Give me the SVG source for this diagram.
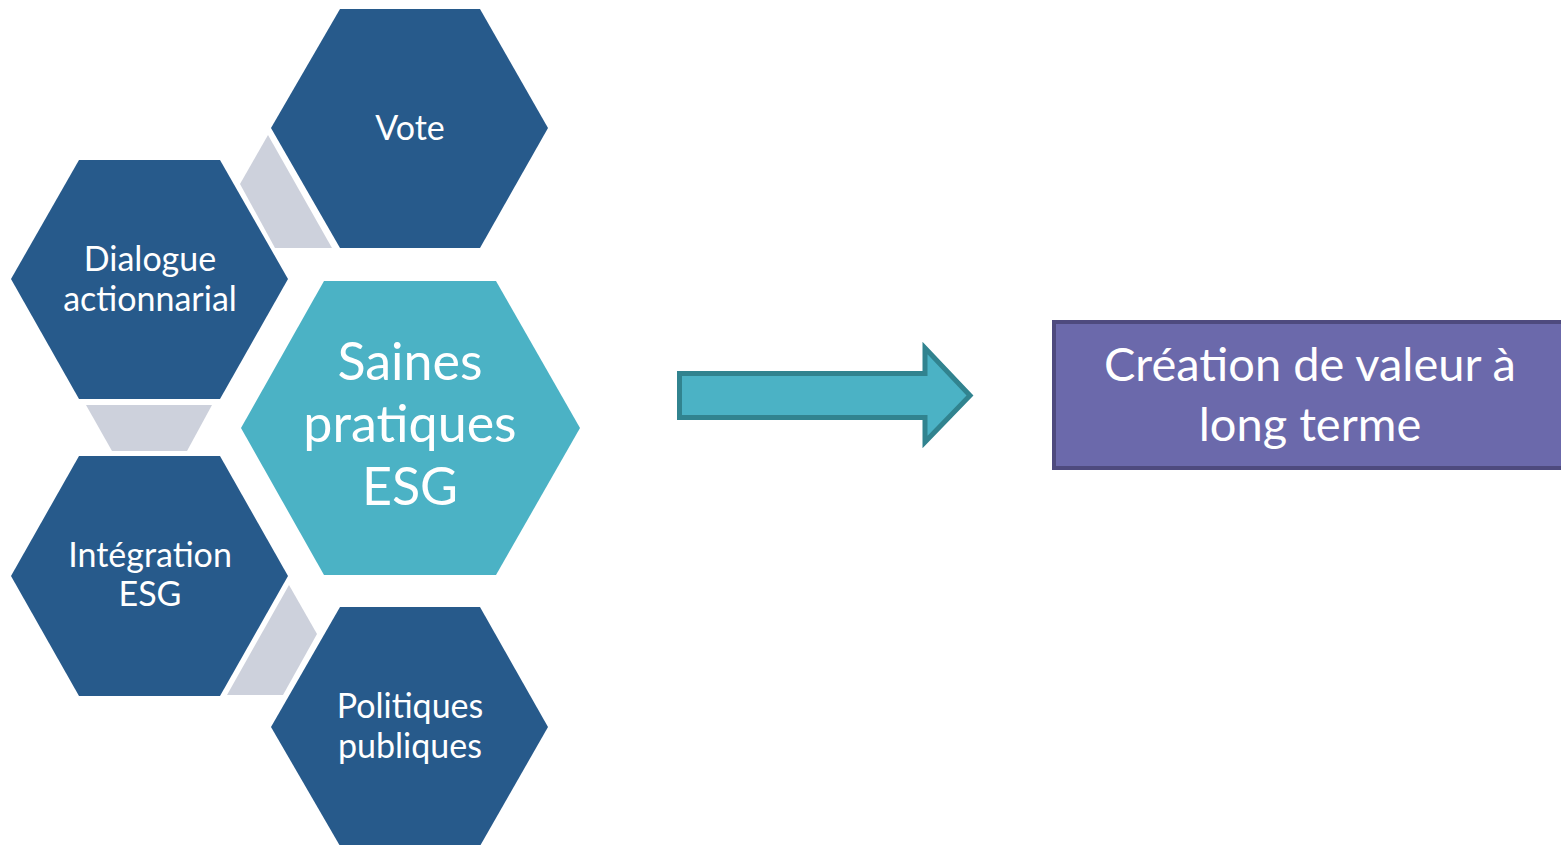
<svg xmlns="http://www.w3.org/2000/svg" width="1561" height="845" viewBox="0 0 1561 845">
<style>
.hex{fill:#275A8B}
.hexc{fill:#4BB2C5}
.con{fill:#CDD1DC}
.t{font-family:Lato,"Open Sans","Liberation Sans",sans-serif;fill:#fff;text-anchor:middle}
.s{font-size:34px}
.l{font-size:52px}
.b{font-size:47px}
</style>
<rect width="1561" height="845" fill="#fff"/>
<g id="connectors">
<polygon class="con" points="268,135 332,248 275,248 240,184"/>
<polygon class="con" points="86,405 212,405 187,451 112,451"/>
<polygon class="con" points="289,585 317,634 283,695 227,695"/>
<path d="M679.5,373.5 H925 V348 L970,395.5 L925,442 V417.5 H679.5 Z" fill="#4BB2C5" stroke="#31838F" stroke-width="5" stroke-linejoin="miter"/>
</g>
<g id="vote">
<polygon class="hex" points="340,9 480,9 548,128 480,248 340,248 271,128"/>
<text class="t s" x="410" y="140">Vote</text>
</g>
<g id="dialogue">
<polygon class="hex" points="79,160 220,160 288,279 220,399 79,399 11,279"/>
<text class="t s" x="150" y="271">Dialogue</text>
<text class="t s" x="150" y="311">actionnarial</text>
</g>
<g id="center">
<polygon class="hexc" points="324,281 496,281 580,428 496,575 324,575 241,428"/>
<text class="t l" x="410" y="380">Saines</text>
<text class="t l" x="410" y="442">pratiques</text>
<text class="t l" x="410" y="505">ESG</text>
</g>
<g id="integration">
<polygon class="hex" points="79,456 220,456 288,576 220,696 79,696 11,576"/>
<text class="t s" x="150" y="567">Intégration</text>
<text class="t s" x="150" y="606">ESG</text>
</g>
<g id="politiques">
<polygon class="hex" points="340,607 480,607 548,727 480,846 340,846 271,727"/>
<text class="t s" x="410" y="718">Politiques</text>
<text class="t s" x="410" y="758">publiques</text>
</g>
<g id="creation">
<rect x="1054" y="322" width="520" height="146" fill="#6B69AB" stroke="#4E4A7E" stroke-width="4"/>
<text class="t b" x="1310" y="381">Création de valeur à</text>
<text class="t b" x="1310" y="441">long terme</text>
</g>
</svg>
